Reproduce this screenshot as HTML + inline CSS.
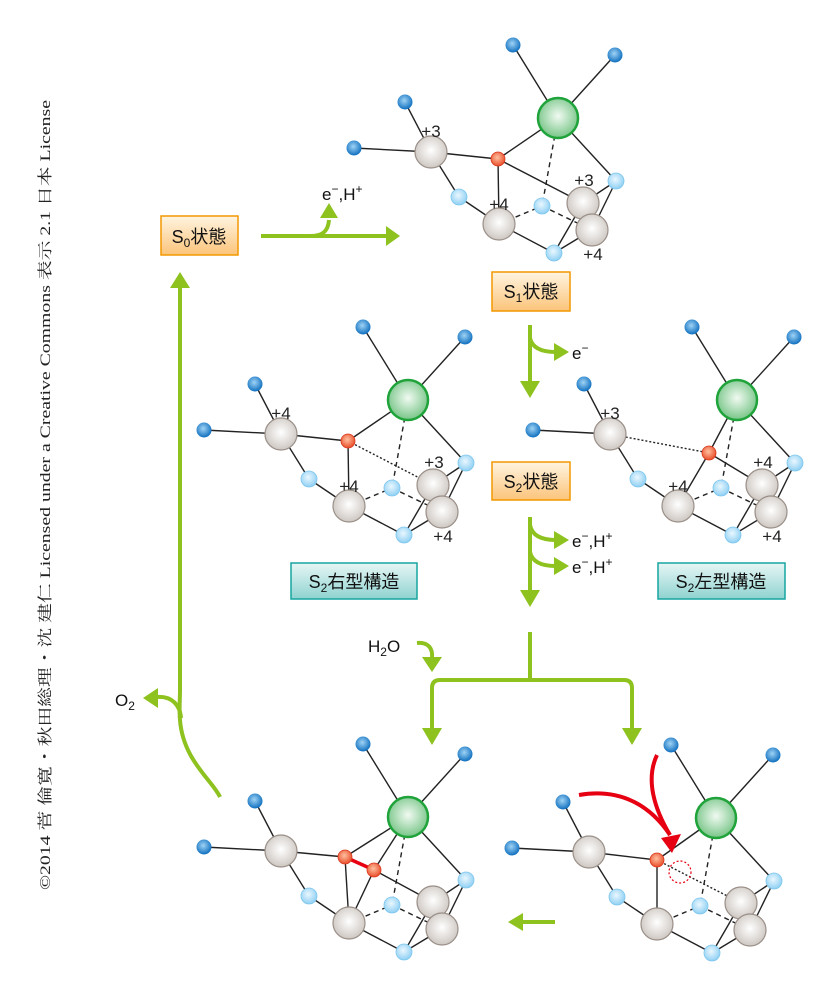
<!DOCTYPE html>
<html><head><meta charset="utf-8"><style>
html,body{margin:0;padding:0;background:#fff}
svg{display:block}
text{font-family:"Liberation Sans","Noto Sans CJK JP",sans-serif}
</style></head><body>
<svg width="837" height="1002" viewBox="0 0 837 1002" xmlns="http://www.w3.org/2000/svg">
<defs>
<radialGradient id="gb" cx="45%" cy="40%" r="60%"><stop offset="0" stop-color="#9fd3f5"/><stop offset="1" stop-color="#0f6fbf"/></radialGradient>
<radialGradient id="gl" cx="45%" cy="40%" r="60%"><stop offset="0" stop-color="#eaf7ff"/><stop offset="1" stop-color="#8fd0f3"/></radialGradient>
<radialGradient id="gg" cx="50%" cy="45%" r="60%"><stop offset="0" stop-color="#f1faf2"/><stop offset="1" stop-color="#6cc07d"/></radialGradient>
<radialGradient id="gm" cx="50%" cy="45%" r="60%"><stop offset="0" stop-color="#ffffff"/><stop offset="1" stop-color="#c9c2bc"/></radialGradient>
<radialGradient id="go" cx="45%" cy="40%" r="60%"><stop offset="0" stop-color="#ffc0a0"/><stop offset="1" stop-color="#e94e2a"/></radialGradient>
<linearGradient id="bo" x1="0" y1="0" x2="0" y2="1"><stop offset="0" stop-color="#fff4e0"/><stop offset="1" stop-color="#fbc47a"/></linearGradient>
<linearGradient id="bt" x1="0" y1="0" x2="0" y2="1"><stop offset="0" stop-color="#e6f6f5"/><stop offset="1" stop-color="#8fd3d0"/></linearGradient>
<g id="base" stroke="#222" stroke-width="1.4" fill="none">
<line x1="513" y1="45" x2="558" y2="118"/><line x1="615" y1="55" x2="558" y2="118"/>
<line x1="405" y1="102" x2="431" y2="152"/><line x1="354" y1="148" x2="431" y2="152"/>
<line x1="431" y1="152" x2="459" y2="197"/><line x1="459" y1="197" x2="499" y2="224"/>
<line x1="499" y1="224" x2="554" y2="253"/><line x1="554" y1="253" x2="583" y2="203"/>
<line x1="554" y1="253" x2="592" y2="230"/><line x1="558" y1="118" x2="616" y2="181"/>
<line x1="616" y1="181" x2="583" y2="203"/><line x1="616" y1="181" x2="592" y2="230"/>
<g stroke-dasharray="5,4"><line x1="558" y1="118" x2="542" y2="206"/><line x1="499" y1="224" x2="542" y2="206"/><line x1="542" y1="206" x2="592" y2="230"/></g>
</g>
<g id="atoms">
<circle cx="513" cy="45" r="7.5" fill="url(#gb)"/><circle cx="615" cy="55" r="7.5" fill="url(#gb)"/>
<circle cx="405" cy="102" r="7.5" fill="url(#gb)"/><circle cx="354" cy="148" r="7.5" fill="url(#gb)"/>
<circle cx="558" cy="118" r="20" fill="url(#gg)" stroke="#1fa33a" stroke-width="2.5"/>
<circle cx="459" cy="197" r="8" fill="url(#gl)" stroke="#7cc6ee" stroke-width="0.8"/>
<circle cx="542" cy="206" r="8" fill="url(#gl)" stroke="#7cc6ee" stroke-width="0.8"/>
<circle cx="616" cy="181" r="8" fill="url(#gl)" stroke="#7cc6ee" stroke-width="0.8"/>
<circle cx="554" cy="253" r="8" fill="url(#gl)" stroke="#7cc6ee" stroke-width="0.8"/>
<circle cx="431" cy="152" r="16" fill="url(#gm)" stroke="#9a8f88" stroke-width="1.2"/>
<circle cx="499" cy="224" r="16" fill="url(#gm)" stroke="#9a8f88" stroke-width="1.2"/>
<circle cx="583" cy="203" r="16" fill="url(#gm)" stroke="#9a8f88" stroke-width="1.2"/>
<circle cx="592" cy="230" r="16" fill="url(#gm)" stroke="#9a8f88" stroke-width="1.2"/>
</g>
</defs>

<text transform="translate(50,495) rotate(-90)" text-anchor="middle" font-size="15" fill="#222" textLength="790" lengthAdjust="spacingAndGlyphs" style="font-family:'Liberation Serif','Noto Serif CJK SC',serif">©2014 菅 倫寛・秋田総理・沈 建仁 Licensed under a Creative Commons 表示 2.1 日本 License</text>

<g>
<use href="#base"/>
<g stroke="#222" stroke-width="1.4"><line x1="431" y1="152" x2="498" y2="159"/><line x1="498" y1="159" x2="558" y2="118"/><line x1="498" y1="159" x2="499" y2="224"/><line x1="498" y1="159" x2="583" y2="203"/></g>
<use href="#atoms"/>
<circle cx="498" cy="159" r="7" fill="url(#go)" stroke="#d9381e" stroke-width="0.8"/>
<g font-size="17" fill="#222" text-anchor="middle"><text x="431" y="137">+3</text><text x="499" y="210">+4</text><text x="584" y="186">+3</text><text x="593" y="260">+4</text></g>
</g>

<g transform="translate(-150,282)">
<use href="#base"/>
<g stroke="#222" stroke-width="1.4"><line x1="431" y1="152" x2="498" y2="159"/><line x1="498" y1="159" x2="558" y2="118"/><line x1="498" y1="159" x2="499" y2="224"/><line x1="498" y1="159" x2="583" y2="203" stroke-dasharray="2,2"/></g>
<use href="#atoms"/>
<circle cx="498" cy="159" r="7" fill="url(#go)" stroke="#d9381e" stroke-width="0.8"/>
<g font-size="17" fill="#222" text-anchor="middle"><text x="431" y="137">+4</text><text x="499" y="210">+4</text><text x="584" y="186">+3</text><text x="593" y="260">+4</text></g>
</g>

<g transform="translate(179,282)">
<use href="#base"/>
<g stroke="#222" stroke-width="1.4"><line x1="431" y1="152" x2="530" y2="171" stroke-dasharray="2,2"/><line x1="530" y1="171" x2="558" y2="118"/><line x1="530" y1="171" x2="499" y2="224"/><line x1="530" y1="171" x2="583" y2="203"/></g>
<use href="#atoms"/>
<circle cx="530" cy="171" r="7" fill="url(#go)" stroke="#d9381e" stroke-width="0.8"/>
<g font-size="17" fill="#222" text-anchor="middle"><text x="431" y="137">+3</text><text x="499" y="210">+4</text><text x="584" y="186">+4</text><text x="593" y="260">+4</text></g>
</g>

<g transform="translate(-150,699)">
<use href="#base"/>
<g stroke="#222" stroke-width="1.4"><line x1="431" y1="152" x2="495" y2="158"/><line x1="495" y1="158" x2="558" y2="118"/><line x1="495" y1="158" x2="499" y2="224"/><line x1="524" y1="171" x2="558" y2="118"/><line x1="524" y1="171" x2="499" y2="224"/><line x1="524" y1="171" x2="583" y2="203"/></g>
<line x1="495" y1="158" x2="524" y2="171" stroke="#e60012" stroke-width="3.5"/>
<use href="#atoms"/>
<circle cx="495" cy="158" r="7" fill="url(#go)" stroke="#d9381e" stroke-width="0.8"/>
<circle cx="524" cy="171" r="7" fill="url(#go)" stroke="#d9381e" stroke-width="0.8"/>
</g>

<g transform="translate(158,700)">
<use href="#base"/>
<g stroke="#222" stroke-width="1.4"><line x1="431" y1="152" x2="499" y2="160"/><line x1="499" y1="160" x2="558" y2="118"/><line x1="499" y1="160" x2="499" y2="224"/><line x1="499" y1="160" x2="583" y2="203" stroke-dasharray="2,2"/></g>
<use href="#atoms"/>
<circle cx="499" cy="160" r="7" fill="url(#go)" stroke="#d9381e" stroke-width="0.8"/>
<circle cx="522" cy="172" r="11" fill="none" stroke="#e60012" stroke-width="1.2" stroke-dasharray="2,2"/>
</g>
<g fill="none" stroke="#e60012" stroke-width="4">
<path d="M579,795 C620,788 650,805 670,835"/>
<path d="M657,755 C645,780 655,810 670,835"/>
</g>
<polygon points="661,838 681,834 672,853" fill="#e60012"/>

<g fill="none" stroke="#8dc21f" stroke-width="4">
<line x1="261" y1="236" x2="386" y2="236"/>
<path d="M310,236 C322,236 328,232 329,220"/>
<line x1="530" y1="325" x2="530" y2="383"/>
<path d="M530,338 C532,348 542,352 556,352"/>
<line x1="530" y1="517" x2="530" y2="592"/>
<path d="M530,525 C532,536 542,540 556,540"/>
<path d="M530,552 C532,562 542,566 556,566"/>
<line x1="530" y1="632" x2="530" y2="680"/>
<path d="M432,732 V688 Q432,680 440,680 H624 Q632,680 632,688 V732"/>
<path d="M417,643 C428,642 433,648 432,658"/>
<path d="M220,797 C212,780 183,760 180,720 C179,710 180,700 180,690 V286"/>
<path d="M181,718 C180,705 172,696 157,697"/>
<line x1="555" y1="922" x2="522" y2="922"/>
</g>
<g fill="#8dc21f">
<polygon points="386,226 400,236 386,246"/>
<polygon points="320,218 338,218 329,203"/>
<polygon points="520,381 540,381 530,398"/>
<polygon points="554,343 569,352 554,361"/>
<polygon points="520,590 540,590 530,607"/>
<polygon points="554,531 569,540 554,549"/>
<polygon points="554,557 569,566 554,575"/>
<polygon points="422,728 442,728 432,745"/>
<polygon points="622,728 642,728 632,745"/>
<polygon points="422,657 442,657 432,672"/>
<polygon points="170,288 190,288 180,272"/>
<polygon points="158,688 143,698 158,708"/>
<polygon points="523,913 508,922 523,931"/>
</g>

<g font-size="17" fill="#111">
<text x="322" y="200">e<tspan font-size="12" dy="-7">−</tspan><tspan dy="7">,H</tspan><tspan font-size="12" dy="-7">+</tspan></text>
<text x="572" y="359">e<tspan font-size="12" dy="-7">−</tspan></text>
<text x="572" y="547">e<tspan font-size="12" dy="-7">−</tspan><tspan dy="7">,H</tspan><tspan font-size="12" dy="-7">+</tspan></text>
<text x="572" y="573">e<tspan font-size="12" dy="-7">−</tspan><tspan dy="7">,H</tspan><tspan font-size="12" dy="-7">+</tspan></text>
<text x="368" y="652">H<tspan font-size="12" dy="4">2</tspan><tspan dy="-4">O</tspan></text>
<text x="115" y="706">O<tspan font-size="12" dy="4">2</tspan></text>
</g>

<g stroke="#f39800" stroke-width="1.5" fill="url(#bo)">
<rect x="161" y="216" width="77" height="39"/>
<rect x="492" y="272" width="78" height="39"/>
<rect x="492" y="462" width="78" height="38"/>
</g>
<g stroke="#16a5a0" stroke-width="1.5" fill="url(#bt)">
<rect x="291" y="563" width="126" height="36"/>
<rect x="658" y="563" width="127" height="36"/>
</g>
<g font-size="18" fill="#111" text-anchor="middle">
<text x="199" y="243">S<tspan font-size="12" dy="4">0</tspan><tspan dy="-4">状態</tspan></text>
<text x="531" y="298">S<tspan font-size="12" dy="4">1</tspan><tspan dy="-4">状態</tspan></text>
<text x="531" y="488">S<tspan font-size="12" dy="4">2</tspan><tspan dy="-4">状態</tspan></text>
<text x="354" y="588">S<tspan font-size="12" dy="4">2</tspan><tspan dy="-4">右型構造</tspan></text>
<text x="721" y="588">S<tspan font-size="12" dy="4">2</tspan><tspan dy="-4">左型構造</tspan></text>
</g>
</svg>
</body></html>
